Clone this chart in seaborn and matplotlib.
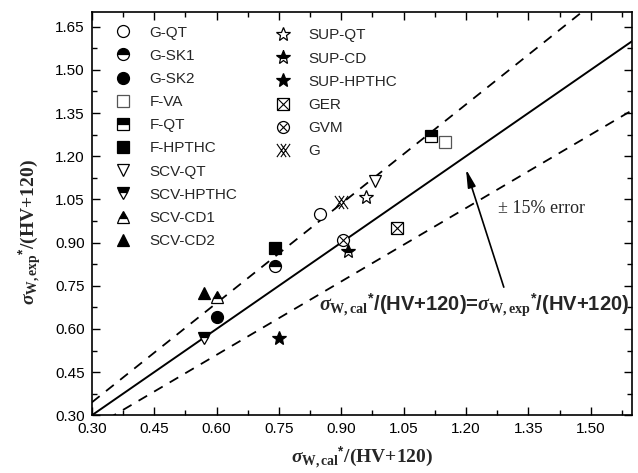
import matplotlib
matplotlib.use('Agg')
import matplotlib.pyplot as plt
from matplotlib.path import Path
from matplotlib.ticker import MultipleLocator
import seaborn as sns

# values
series = ['G-QT', 'G-SK1', 'G-SK2', 'F-VA', 'F-QT', 'F-HPTHC', 'SCV-QT', 'SCV-HPTHC',
          'SCV-CD1', 'SCV-CD2', 'SUP-QT', 'SUP-CD', 'SUP-HPTHC', 'GER', 'GVM', 'G']
x_cal = [0.85, 0.74, 0.60, 1.15, 1.115, 0.74, 0.98, 0.57, 0.60, 0.57, 0.96, 0.915, 0.75, 1.035, 0.905, 0.90]
y_exp = [1.00, 0.82, 0.64, 1.25, 1.27, 0.88, 1.115, 0.57, 0.71, 0.725, 1.06, 0.87, 0.57, 0.95, 0.91, 1.04]
left_col = series[:10]
right_col = series[10:]
err = 0.15
line_x = [0.30, 1.60]
ticks = [0.30, 0.45, 0.60, 0.75, 0.90, 1.05, 1.20, 1.35, 1.50, 1.65]

sns.set_theme(style='ticks')
plt.rcParams['font.family'] = ['Liberation Sans', 'DejaVu Sans']
plt.rcParams['mathtext.fontset'] = 'custom'
plt.rcParams['mathtext.rm'] = 'Liberation Serif:bold'
plt.rcParams['mathtext.bf'] = 'Liberation Serif:bold'
plt.rcParams['mathtext.it'] = 'Liberation Serif:italic:bold'
plt.rcParams['mathtext.sf'] = 'Liberation Sans:bold'

fig, ax = plt.subplots(figsize=(6.38, 4.73), dpi=100)
fig.subplots_adjust(left=0.144, right=0.991, bottom=0.122, top=0.974)

# reference lines y = x and +-15 %
sns.lineplot(x=line_x, y=line_x, ax=ax, color='black', lw=1.4)
sns.lineplot(x=line_x, y=[v * (1 + err) for v in line_x], ax=ax, color='black', lw=1.3,
             linestyle=(0, (5.5, 4.5)))
sns.lineplot(x=line_x, y=[v * (1 - err) for v in line_x], ax=ax, color='black', lw=1.3,
             linestyle=(0, (5.5, 4.5)))

dbl_x = Path([(-1, 1), (0.4, -1), (-1, -1), (0.4, 1), (-0.4, 1), (1, -1), (-0.4, -1), (1, 1)],
             [Path.MOVETO, Path.LINETO] * 4)

W, K = 'white', 'black'
styles = {
    'G-QT': [dict(marker='o', ms=8.6, mfc=W)],
    'G-SK1': [dict(marker='o', ms=8.6, mfc=K, fillstyle='top', mfcalt=W)],
    'G-SK2': [dict(marker='o', ms=8.6, mfc=K)],
    'F-VA': [dict(marker='s', ms=8.0, mfc=W, mec='#555555')],
    'F-QT': [dict(marker='s', ms=8.0, mfc=K, fillstyle='top', mfcalt=W)],
    'F-HPTHC': [dict(marker='s', ms=8.0, mfc=K)],
    'SCV-QT': [dict(marker='v', ms=9.0, mfc=W)],
    'SCV-HPTHC': [dict(marker='v', ms=9.0, mfc=K, fillstyle='top', mfcalt=W)],
    'SCV-CD1': [dict(marker='^', ms=9.0, mfc=K, fillstyle='top', mfcalt=W)],
    'SCV-CD2': [dict(marker='^', ms=9.0, mfc=K)],
    'SUP-QT': [dict(marker='*', ms=10.5, mfc=W)],
    'SUP-CD': [dict(marker='*', ms=10.5, mfc=K, fillstyle='top', mfcalt=W)],
    'SUP-HPTHC': [dict(marker='*', ms=10.5, mfc=K)],
    'GER': [dict(marker='s', ms=8.0, mfc=W), dict(marker='x', ms=8.0, mew=0.8)],
    'GVM': [dict(marker='o', ms=8.6, mfc=W), dict(marker='x', ms=6.0, mew=0.8)],
    'G': [dict(marker=dbl_x, ms=9.5, mfc='none', mew=0.8)],
}

handles = {}
for name, xv, yv in zip(series, x_cal, y_exp):
    parts = []
    for st in styles[name]:
        kw = dict(mec=K, mew=0.9)
        kw.update(st)
        mfcalt = kw.pop('mfcalt', None)
        ln, = ax.plot([xv], [yv], ls='none', color=K, zorder=3, **kw)
        if mfcalt is not None:
            ln.set_markerfacecoloralt(mfcalt)
        parts.append(ln)
    handles[name] = tuple(parts) if len(parts) > 1 else parts[0]

leg_kw = dict(frameon=False, loc='upper left', handlelength=1.0, handletextpad=1.2,
              labelspacing=0.6, borderaxespad=0, borderpad=0, fontsize=11)
leg1 = ax.legend([handles[n] for n in left_col], left_col, bbox_to_anchor=(0.044, 0.967), **leg_kw)
ax.add_artist(leg1)
ax.legend([handles[n] for n in right_col], right_col, bbox_to_anchor=(0.339, 0.960), **leg_kw)

ax.set_xlim(0.30, 1.60)
ax.set_ylim(0.30, 1.70)
ax.set_xticks(ticks[:-1])
ax.set_yticks(ticks)
ax.xaxis.set_minor_locator(MultipleLocator(0.075))
ax.yaxis.set_minor_locator(MultipleLocator(0.075))
ax.tick_params(which='both', direction='in', top=True, right=True, color='black',
               width=1.0, labelsize=11, labelcolor='black', pad=5)
ax.tick_params(which='major', length=6)
ax.tick_params(which='minor', length=3.5)
ax.set_xticklabels([f'{t:.2f}' for t in ticks[:-1]])
ax.set_yticklabels([f'{t:.2f}' for t in ticks])
for sp in ax.spines.values():
    sp.set_linewidth(1.2)
    sp.set_color('black')

lab_font = dict(family='Liberation Serif', weight='bold', size=14)
ax.set_xlabel(r'$\sigma_{\mathbf{W,cal}}{}^{\mathsf{*}}$/(HV+120)', fontdict=lab_font)
ax.set_ylabel(r'$\sigma_{\mathbf{W,exp}}{}^{\mathsf{*}}$/(HV+120)', fontdict=lab_font)
ax.xaxis.set_label_coords(0.5, -0.072)
ax.yaxis.set_label_coords(-0.088, 0.455)

ax.text(1.277, 1.017, '\u00b1 15% error', family='Liberation Serif', fontsize=13,
        va='center', ha='left')
ax.annotate('', xy=(1.198, 1.164), xytext=(1.293, 0.736),
            arrowprops=dict(arrowstyle='-|>,head_length=0.9,head_width=0.2', color='black', lw=1.2))
ax.text(1.220, 0.684,
        r'$\sigma_{\mathbf{W,cal}}{}^{\mathsf{*}}$/(HV+120)=$\sigma_{\mathbf{W,exp}}{}^{\mathsf{*}}$/(HV+120)',
        family='Liberation Sans', weight='bold', fontsize=14.5, ha='center', va='center')

fig.savefig('out.png', dpi=100)
